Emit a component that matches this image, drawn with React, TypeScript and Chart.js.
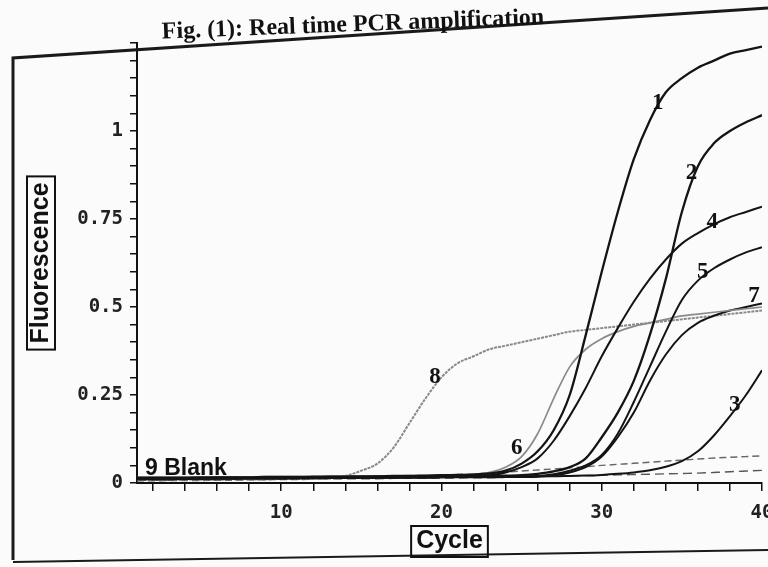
import React, { useEffect, useRef } from 'react';
import { Chart, registerables } from 'chart.js';
Chart.register(...registerables);

// ---------- data ----------
const cycles = [1,2,3,4,5,6,7,8,9,10,11,12,13,14,15,16,17,18,19,20,21,22,23,24,25,26,27,28,29,30,31,32,33,34,35,36,37,38,39,40];

const curve1 = [0.015,0.015,0.015,0.015,0.015,0.016,0.016,0.016,0.017,0.017,0.017,0.018,0.018,0.018,0.019,0.019,0.02,0.02,0.021,0.022,0.023,0.024,0.027,0.035,0.055,0.09,0.15,0.25,0.42,0.6,0.77,0.92,1.03,1.11,1.15,1.18,1.2,1.22,1.23,1.24];
const curve2 = [0.014,0.014,0.014,0.014,0.015,0.015,0.015,0.015,0.016,0.016,0.016,0.016,0.017,0.017,0.017,0.018,0.018,0.018,0.019,0.019,0.019,0.02,0.02,0.021,0.022,0.026,0.033,0.045,0.07,0.13,0.2,0.29,0.42,0.58,0.77,0.9,0.965,1.0,1.025,1.045];
const curve3 = [0.012,0.012,0.012,0.012,0.012,0.013,0.013,0.013,0.013,0.013,0.014,0.014,0.014,0.014,0.015,0.015,0.015,0.016,0.016,0.016,0.017,0.017,0.017,0.018,0.018,0.019,0.019,0.02,0.021,0.023,0.026,0.03,0.036,0.046,0.062,0.09,0.135,0.19,0.25,0.32];
const curve4 = [0.013,0.013,0.013,0.013,0.014,0.014,0.014,0.014,0.015,0.015,0.015,0.016,0.016,0.016,0.017,0.017,0.017,0.018,0.018,0.019,0.019,0.02,0.022,0.03,0.045,0.07,0.12,0.19,0.27,0.36,0.44,0.515,0.58,0.635,0.68,0.71,0.735,0.755,0.77,0.785];
const curve5 = [0.012,0.012,0.012,0.013,0.013,0.013,0.013,0.014,0.014,0.014,0.014,0.015,0.015,0.015,0.015,0.016,0.016,0.016,0.016,0.017,0.017,0.017,0.018,0.018,0.019,0.02,0.025,0.035,0.05,0.08,0.14,0.23,0.33,0.43,0.52,0.575,0.61,0.635,0.655,0.67];
const curve6 = [0.016,0.016,0.016,0.016,0.017,0.017,0.017,0.017,0.018,0.018,0.018,0.018,0.019,0.019,0.019,0.02,0.02,0.021,0.021,0.022,0.023,0.025,0.03,0.045,0.075,0.14,0.24,0.33,0.38,0.41,0.43,0.445,0.455,0.465,0.475,0.48,0.485,0.49,0.495,0.5];
const curve7 = [0.011,0.011,0.011,0.012,0.012,0.012,0.012,0.013,0.013,0.013,0.013,0.014,0.014,0.014,0.014,0.015,0.015,0.015,0.015,0.016,0.016,0.016,0.016,0.017,0.017,0.018,0.022,0.03,0.045,0.075,0.13,0.2,0.29,0.365,0.42,0.455,0.475,0.49,0.5,0.51];
const curve8 = [0.01,0.01,0.01,0.01,0.01,0.011,0.011,0.011,0.011,0.012,0.012,0.013,0.015,0.02,0.035,0.055,0.1,0.17,0.24,0.3,0.34,0.36,0.38,0.39,0.4,0.41,0.42,0.43,0.435,0.44,0.445,0.45,0.455,0.46,0.465,0.47,0.475,0.48,0.485,0.49];
const blankA = [0.008,0.008,0.008,0.009,0.009,0.009,0.01,0.01,0.01,0.011,0.011,0.011,0.012,0.012,0.012,0.012,0.013,0.013,0.013,0.014,0.014,0.015,0.015,0.016,0.017,0.018,0.019,0.02,0.021,0.022,0.023,0.024,0.025,0.026,0.027,0.028,0.03,0.032,0.034,0.036];
const blankB = [0.006,0.006,0.007,0.007,0.007,0.008,0.008,0.009,0.009,0.01,0.01,0.011,0.012,0.013,0.014,0.015,0.016,0.018,0.02,0.022,0.024,0.026,0.028,0.031,0.034,0.037,0.04,0.043,0.046,0.05,0.053,0.056,0.059,0.062,0.065,0.068,0.071,0.073,0.075,0.077];

const seriesNames = ['1', '2', '3', '4', '5', '6', '7', '8', '9 Blank', '9 Blank (b)'];

const curveLabels = ['1', '2', '3', '4', '5', '6', '7', '8', '9 Blank'];
const labelCycles = [33.5, 35.6, 38.3, 36.9, 36.3, 24.7, 39.5, 19.6, 1.5];
const labelValues = [1.08, 0.88, 0.22, 0.74, 0.6, 0.1, 0.53, 0.3, 0.04];

const yMajorTicks = [0, 0.25, 0.5, 0.75, 1];
const xMajorTicks = [10, 20, 30, 40];

const titleText = 'Fig. (1): Real time PCR amplification';
const yTitle = 'Fluorescence';
const xTitle = 'Cycle';

const TITLE_FONT = { family: 'Liberation Sans', size: 25, weight: 'bold' as const };
const TICK_FONT = { family: 'DejaVu Sans Mono', size: 19, weight: 'bold' as const };

const decorPlugin = {
  id: 'decor',
  beforeDraw(chart: any) {
    const { ctx, width, height } = chart;
    ctx.save();
    ctx.fillStyle = '#fbfbfb';
    ctx.fillRect(0, 0, width, height);
    ctx.restore();
  },
  afterDraw(chart: any) {
    const { ctx, scales, width } = chart;
    const xs = scales.x;
    const ys = scales.y;
    ctx.save();
    // page frame
    ctx.strokeStyle = '#1a1a1a';
    ctx.lineWidth = 3;
    ctx.beginPath();
    ctx.moveTo(13, 560);
    ctx.lineTo(13, 58);
    ctx.lineTo(width, 8);
    ctx.stroke();
    ctx.lineWidth = 2;
    ctx.beginPath();
    ctx.moveTo(13, 562);
    ctx.lineTo(width, 550);
    ctx.stroke();

    // title (slightly tilted like the scan)
    ctx.save();
    ctx.translate(353, 25);
    ctx.rotate(-0.038);
    ctx.fillStyle = '#111';
    ctx.font = 'bold 24px "Liberation Serif"';
    ctx.textAlign = 'center';
    ctx.textBaseline = 'middle';
    ctx.fillText(titleText, 0, 0);
    ctx.restore();

    // boxes around axis titles
    ctx.font = `bold ${TITLE_FONT.size}px "${TITLE_FONT.family}"`;
    const lh = TITLE_FONT.size * 1.2;
    const ycx = ys.left + lh / 2 + 26;
    const ycy = (ys.top + ys.bottom) / 2;
    const wy = ctx.measureText(yTitle).width;
    ctx.strokeStyle = '#111';
    ctx.lineWidth = 2;
    ctx.strokeRect(ycx - 14, ycy - wy / 2 - 6, 28, wy + 12);
    const xcx = (xs.left + xs.right) / 2;
    const xcy = xs.bottom - lh / 2 - 11;
    const wx = ctx.measureText(xTitle).width;
    ctx.strokeRect(xcx - wx / 2 - 5, xcy - 15, wx + 10, 31);

    // curve labels
    ctx.fillStyle = '#111';
    ctx.textBaseline = 'middle';
    curveLabels.forEach((t, i) => {
      const px = xs.getPixelForValue(labelCycles[i]);
      const py = ys.getPixelForValue(labelValues[i]);
      if (t.length > 1) {
        ctx.font = 'bold 23px "Liberation Sans"';
        ctx.textAlign = 'left';
      } else {
        ctx.font = 'bold 23px "Liberation Serif"';
        ctx.textAlign = 'center';
      }
      ctx.fillText(t, px, py);
    });
    ctx.restore();
  },
};

export default function App() {
  const ref = useRef<HTMLCanvasElement | null>(null);
  useEffect(() => {
    if (!ref.current) return;
    const black = '#141414';
    const grey = '#8a8a8a';
    const dataSets = [curve1, curve2, curve3, curve4, curve5, curve6, curve7, curve8, blankA, blankB];
    const colors = [black, black, black, black, black, grey, black, '#888', '#555', '#666'];
    const widths = [2.3, 2.3, 2, 2, 2, 1.7, 2, 2, 1.4, 1.4];
    const dashes = [[], [], [], [], [], [], [], [3, 1], [9, 5], [7, 4]];
    const chart = new Chart(ref.current, {
      type: 'line',
      data: {
        labels: cycles,
        datasets: dataSets.map((d, i) => ({
          label: seriesNames[i],
          data: d.map((v, j) => ({ x: cycles[j], y: v })),
          borderColor: colors[i],
          borderWidth: widths[i],
          borderDash: dashes[i],
          pointRadius: 0,
          fill: false,
          cubicInterpolationMode: 'monotone' as const,
        })),
      },
      options: {
        animation: false,
        responsive: true,
        maintainAspectRatio: false,
        layout: { padding: { left: 0, right: 6, top: 43, bottom: 0 } },
        plugins: { legend: { display: false }, tooltip: { enabled: false }, title: { display: false } },
        scales: {
          x: {
            type: 'linear',
            min: 1,
            max: 40,
            afterFit: (s: any) => { s.height = 84; s.paddingRight = 0; s.paddingLeft = 0; },
            border: { display: true, color: '#111', width: 2 },
            grid: { drawOnChartArea: false, drawTicks: true, tickLength: 8, color: '#111', lineWidth: 1.5 },
            ticks: {
              stepSize: 2,
              autoSkip: false,
              includeBounds: false,
              maxRotation: 0,
              padding: 11,
              color: '#222',
              font: TICK_FONT,
              callback: (v: any) => {
                const n = Number(v);
                const hit = xMajorTicks.find((m) => Math.abs(m - n) < 1e-6);
                return hit === undefined ? '' : String(hit);
              },
            },
            title: { display: true, text: xTitle, color: '#111', font: TITLE_FONT, padding: { top: 0, bottom: 11 } },
          },
          y: {
            type: 'linear',
            min: 0,
            max: 1.25,
            afterFit: (s: any) => { s.width = 137; s.paddingTop = 0; s.paddingBottom = 0; },
            border: { display: true, color: '#111', width: 2 },
            grid: { drawOnChartArea: false, drawTicks: true, tickLength: 7, color: '#111', lineWidth: 1.5 },
            ticks: {
              stepSize: 0.05,
              autoSkip: false,
              padding: 7,
              color: '#222',
              font: TICK_FONT,
              callback: (v: any) => {
                const n = Number(v);
                const hit = yMajorTicks.find((m) => Math.abs(m - n) < 1e-6);
                return hit === undefined ? '' : String(hit);
              },
            },
            title: { display: true, text: yTitle, color: '#111', font: TITLE_FONT, padding: { top: 26, bottom: 0 } },
          },
        },
      },
      plugins: [decorPlugin],
    });
    return () => chart.destroy();
  }, []);
  return (
    <div style={{ position: 'fixed', left: 0, top: 0, width: 768, height: 567, background: '#fbfbfb' }}>
      <canvas ref={ref} />
    </div>
  );
}
